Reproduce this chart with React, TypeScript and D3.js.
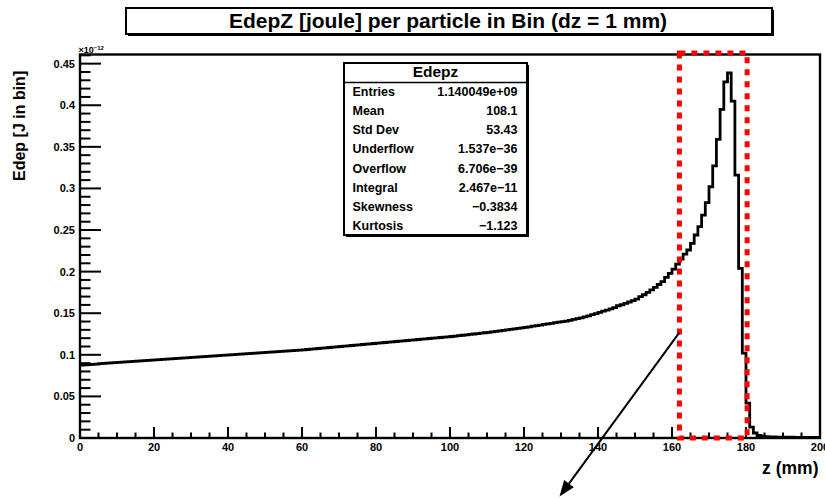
import React from "react";
import * as d3 from "d3";

// Energy deposited per 1 mm bin along z (units of 1e-12 J), bins 0..199
const edep: number[] = [
  0.0875, 0.0879, 0.0882, 0.0886, 0.0889, 0.0893, 0.0896, 0.09, 0.0903, 0.0907,
  0.091, 0.0913, 0.0916, 0.0919, 0.0922, 0.0925, 0.0928, 0.0931, 0.0934, 0.0937,
  0.094, 0.0943, 0.0946, 0.0949, 0.0952, 0.0955, 0.0958, 0.0961, 0.0964, 0.0967,
  0.097, 0.0973, 0.0976, 0.0979, 0.0982, 0.0985, 0.0988, 0.0991, 0.0994, 0.0997,
  0.1, 0.1003, 0.1006, 0.1009, 0.1012, 0.1015, 0.1018, 0.1021, 0.1024, 0.1027,
  0.103, 0.1033, 0.1036, 0.1039, 0.1042, 0.1045, 0.1048, 0.1051, 0.1054, 0.1057,
  0.106, 0.1064, 0.1068, 0.1072, 0.1076, 0.108, 0.1084, 0.1088, 0.1092, 0.1096,
  0.11, 0.1104, 0.1108, 0.1112, 0.1116, 0.112, 0.1124, 0.1128, 0.1132, 0.1136,
  0.114, 0.1144, 0.1148, 0.1152, 0.1156, 0.116, 0.1164, 0.1168, 0.1172, 0.1176,
  0.118, 0.1184, 0.1188, 0.1192, 0.1196, 0.12, 0.1204, 0.1208, 0.1212, 0.1216,
  0.122, 0.1225, 0.123, 0.1235, 0.124, 0.1245, 0.125, 0.1255, 0.126, 0.1265,
  0.127, 0.1276, 0.1282, 0.1288, 0.1294, 0.13, 0.1306, 0.1312, 0.1318, 0.1324,
  0.133, 0.1337, 0.1344, 0.1351, 0.1358, 0.1365, 0.1372, 0.1379, 0.1386, 0.1393,
  0.1398, 0.1406, 0.1415, 0.1425, 0.1435, 0.1445, 0.1457, 0.1469, 0.1482, 0.1496,
  0.151, 0.1524, 0.1538, 0.1552, 0.1567, 0.159, 0.1602, 0.1618, 0.1635, 0.1652,
  0.167, 0.17, 0.1722, 0.175, 0.178, 0.181, 0.1845, 0.188, 0.193, 0.198,
  0.203, 0.209, 0.215, 0.221, 0.226, 0.234, 0.244, 0.254, 0.268, 0.283,
  0.302, 0.327, 0.359, 0.395, 0.428, 0.439, 0.405, 0.316, 0.204, 0.102,
  0.042, 0.013, 0.006, 0.003, 0.0022, 0.0017, 0.0014, 0.0012, 0.0011, 0.001,
  0.001, 0.0009, 0.0009, 0.0008, 0.0008, 0.0008, 0.0007, 0.0007, 0.0007, 0.0007,
];

const xTickValues = [0, 20, 40, 60, 80, 100, 120, 140, 160, 180, 200];
const yTickValues = [0, 0.05, 0.1, 0.15, 0.2, 0.25, 0.3, 0.35, 0.4, 0.45];
const yTickLabels = ["0", "0.05", "0.1", "0.15", "0.2", "0.25", "0.3", "0.35", "0.4", "0.45"];

const statNames = ["Entries", "Mean", "Std Dev", "Underflow", "Overflow", "Integral", "Skewness", "Kurtosis"];
const statValues = ["1.140049e+09", "108.1", "53.43", "1.537e\u221236", "6.706e\u221239", "2.467e\u221211", "\u22120.3834", "\u22121.123"];

const zRange = [0, 200];
const edepMax = 0.461;
const highlightZ = [162, 180.3];

const FONT = "'Liberation Sans', Arial, Helvetica, sans-serif";

export default function App() {
  const W = 825;
  const H = 500;
  const left = 80;
  const right = 820;
  const top = 54.5;
  const bottom = 438;

  const x = d3.scaleLinear().domain(zRange).range([left, right]);
  const y = d3.scaleLinear().domain([0, edepMax]).range([bottom, top]);

  const pts: [number, number][] = edep.map((v, i) => [i, v]);
  pts.push([200, edep[edep.length - 1]]);
  const stepPath =
    d3
      .line<[number, number]>()
      .x((d) => x(d[0]))
      .y((d) => y(d[1]))
      .curve(d3.curveStepAfter)(pts) || "";

  const xMinor = d3.range(0, 201, 5);
  const yMinor = d3.range(0, 0.4601, 0.01);

  // arrow geometry
  const a0: [number, number] = [679.3, 332.7];
  const a1: [number, number] = [559.5, 496.5];
  const ang = Math.atan2(a1[1] - a0[1], a1[0] - a0[0]);
  const headLen = 16;
  const headW = 6;
  const bx = a1[0] - headLen * Math.cos(ang);
  const by = a1[1] - headLen * Math.sin(ang);
  const head = [
    [a1[0], a1[1]],
    [bx + headW * Math.sin(ang), by - headW * Math.cos(ang)],
    [bx - headW * Math.sin(ang), by + headW * Math.cos(ang)],
  ]
    .map((p) => p.join(","))
    .join(" ");

  const statTop = 63;
  const rowY0 = 95.7;
  const rowStep = 19.2;

  return (
    <svg
      width={W}
      height={H}
      style={{ position: "absolute", left: 0, top: 0, background: "#fff" }}
      fontFamily={FONT}
    >
      <rect x={0} y={0} width={W} height={H} fill="#fff" />

      {/* title pave */}
      <rect x={128} y={10} width={646} height={26} fill="#000" />
      <rect x={126} y={8} width={646} height={26} fill="#fff" stroke="#000" strokeWidth={2} />
      <text x={448} y={27.5} textAnchor="middle" fontSize={21} fontWeight="bold">
        EdepZ [joule] per particle in Bin (dz = 1 mm)
      </text>

      {/* histogram */}
      <path d={stepPath} fill="none" stroke="#000" strokeWidth={2.8} strokeLinejoin="miter" />

      {/* frame */}
      <rect x={left} y={top} width={right - left} height={bottom - top} fill="none" stroke="#000" strokeWidth={2.4} />

      {/* x ticks */}
      {xMinor.map((v) => (
        <line
          key={"xm" + v}
          x1={x(v)}
          x2={x(v)}
          y1={bottom}
          y2={bottom - (v % 20 === 0 ? 11 : 5.5)}
          stroke="#000"
          strokeWidth={2}
        />
      ))}
      {xTickValues.map((v) => (
        <text key={"xl" + v} x={x(v)} y={450.5} textAnchor="middle" fontSize={11} fontWeight="bold">
          {v}
        </text>
      ))}

      {/* y ticks */}
      {yMinor.map((v, i) => (
        <line
          key={"ym" + i}
          x1={left}
          x2={left + (i % 5 === 0 ? 21 : 10.5)}
          y1={y(v)}
          y2={y(v)}
          stroke="#000"
          strokeWidth={2}
        />
      ))}
      {yTickValues.map((v, i) => (
        <text key={"yl" + i} x={75} y={y(v) + 4} textAnchor="end" fontSize={11} fontWeight="bold">
          {yTickLabels[i]}
        </text>
      ))}

      {/* exponent */}
      <text x={78.5} y={53} fontSize={9} fontWeight="bold">
        {"\u00d710"}
        <tspan dy={-3.5} fontSize={6}>
          {"\u221212"}
        </tspan>
      </text>

      {/* axis titles */}
      <text
        transform={`translate(25,181) rotate(-90)`}
        textAnchor="start"
        fontSize={16}
        fontWeight="bold"
      >
        Edep [J in bin]
      </text>
      <text x={818.5} y={474} textAnchor="end" fontSize={17.5} fontWeight="bold">
        z (mm)
      </text>

      {/* stats box */}
      <rect x={346} y={statTop + 2} width={183} height={172} fill="#000" />
      <rect x={344} y={statTop} width={183} height={172} fill="#fff" stroke="#000" strokeWidth={2} />
      <line x1={344} x2={527} y1={82.5} y2={82.5} stroke="#000" strokeWidth={1.5} />
      <text x={435.5} y={77} textAnchor="middle" fontSize={15.5} fontWeight="bold">
        Edepz
      </text>
      {statNames.map((n, i) => (
        <g key={n}>
          <text x={352.5} y={rowY0 + i * rowStep} fontSize={12.5} fontWeight="bold">
            {n}
          </text>
          <text x={517.5} y={rowY0 + i * rowStep} textAnchor="end" fontSize={12.5} fontWeight="bold">
            {statValues[i]}
          </text>
        </g>
      ))}

      {/* highlighted region */}
      <rect
        x={x(highlightZ[0])}
        y={53}
        width={x(highlightZ[1]) - x(highlightZ[0])}
        height={bottom - 53}
        fill="none"
        stroke="#ff0000"
        strokeWidth={5}
        strokeDasharray="6 6"
      />

      {/* arrow */}
      <line x1={a0[0]} y1={a0[1]} x2={bx} y2={by} stroke="#000" strokeWidth={2} />
      <polygon points={head} fill="#000" />
    </svg>
  );
}
